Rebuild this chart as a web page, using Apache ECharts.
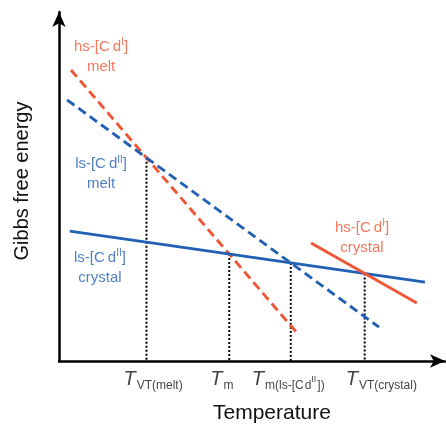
<!DOCTYPE html>
<html><head><meta charset="utf-8">
<script src="https://cdn.jsdelivr.net/npm/echarts@6/dist/echarts.min.js"></script>
<style>html,body{margin:0;padding:0;background:#fff}#c{width:446px;height:428px}</style>
</head><body><div id="c"></div>
<script>
// Free-energy branches: straight segments, [temperature, G] start -> end (arbitrary units)
const hsMelt    = [[3.1, 83.4], [61.7, 8.0]];
const lsMelt    = [[2.1, 74.8], [82.9, 9.7]];
const lsCrystal = [[2.8, 37.2], [94.8, 22.6]];
const hsCrystal = [[65.3, 33.8], [92.7, 16.6]];

// Which branches cross at each transition temperature
const crossingPairs = [
  [hsMelt, lsMelt],        // T_VT(melt)
  [hsMelt, lsCrystal],     // T_m
  [lsMelt, lsCrystal],     // T_m(ls-[Cd II])
  [hsCrystal, lsCrystal]   // T_VT(crystal)
];

// Temperature tick labels (rich text)
const tickLabels = [
  '{t|T}{s|VT(melt)}',
  '{t|T}{s|m}',
  '{t|T}{s|m(ls-[C}{s|d}{p|II}{s|])}',
  '{t|T}{s|VT(crystal)}'
];

// Branch names
const branchNames = [
  '{a|hs-[C}{g|d}{p|I}{a|]}\n{a|melt}',
  '{a|ls-[C}{g|d}{p|II}{a|]}\n{a|melt}',
  '{a|ls-[C}{g|d}{p|II}{a|]}\n{a|crystal}',
  '{a|hs-[C}{g|d}{p|I}{a|]}\n{a|crystal}'
];

// ---- layout / style ----
const RED = '#ef5636', BLUE = '#2260b4';
const branchAnchor = [[10.9, 88.0], [10.9, 54.2], [10.6, 27.5], [78.5, 36.1]];
const branchColor = [RED, BLUE, BLUE, RED];
const tickShift = [-23, -19, -39, -19];
const FONT = '"Liberation Sans", Arial, sans-serif';

function crossing(a, b) {
  const sa = (a[1][1] - a[0][1]) / (a[1][0] - a[0][0]);
  const sb = (b[1][1] - b[0][1]) / (b[1][0] - b[0][0]);
  const ia = a[0][1] - sa * a[0][0];
  const ib = b[0][1] - sb * b[0][0];
  const t = (ib - ia) / (sa - sb);
  return [t, ia + sa * t];
}
const crossings = crossingPairs.map(p => crossing(p[0], p[1]));

const seg = (name, data, color, type) => ({
  name, type: 'line', data, symbol: 'none', silent: true, z: 3,
  lineStyle: { color, width: 2.9, type, cap: 'butt' }
});

const series = [];
crossings.forEach(c => {
  series.push({
    type: 'line', data: [c, [c[0], 0]], symbol: 'none', silent: true, z: 2,
    lineStyle: { color: '#000', width: 2, type: [2, 2] }
  });
});
series.push(seg('hs melt', hsMelt, RED, [9, 5]));
series.push(seg('ls melt', lsMelt, BLUE, [9, 5]));
series.push(seg('ls crystal', lsCrystal, BLUE, 'solid'));
series.push(seg('hs crystal', hsCrystal, RED, 'solid'));

// transition temperature labels under the axis
series.push({
  type: 'scatter', symbolSize: 0, silent: true, z: 5,
  data: crossings.map((c, i) => ({
    value: [c[0], 0],
    label: {
      show: true, position: 'bottom', distance: 6, align: 'left',
      offset: [tickShift[i], 0],
      formatter: tickLabels[i],
      rich: {
        t: { fontFamily: FONT, fontSize: 20, fontStyle: 'italic', color: '#111', verticalAlign: 'bottom', lineHeight: 22 },
        s: { fontFamily: FONT, fontSize: 12, color: '#111', verticalAlign: 'bottom', padding: [0, 0, -3, 1] },
        p: { fontFamily: FONT, fontSize: 9, color: '#111', verticalAlign: 'bottom', padding: [0, 0, 5, 0] }
      }
    }
  }))
});

// branch name labels
series.push({
  type: 'scatter', symbolSize: 0, silent: true, z: 5,
  data: branchAnchor.map((p, i) => ({
    value: p,
    label: {
      show: true, position: 'inside', align: 'center', verticalAlign: 'middle',
      formatter: branchNames[i],
      rich: {
        a: { fontFamily: FONT, fontSize: 15, color: branchColor[i], lineHeight: 20, verticalAlign: 'bottom' },
        g: { fontFamily: FONT, fontSize: 15, color: branchColor[i], lineHeight: 20, verticalAlign: 'bottom', padding: [0, 0, 0, 3] },
        p: { fontFamily: FONT, fontSize: 10, color: branchColor[i], verticalAlign: 'bottom', padding: [0, 0, 7, 0], lineHeight: 20 }
      }
    }
  }))
});

const axisBase = {
  type: 'value', min: 0, max: 100,
  axisTick: { show: false }, axisLabel: { show: false }, splitLine: { show: false },
  axisLine: { show: true, symbol: ['none', 'arrow'], symbolSize: [10, 15], lineStyle: { color: '#000', width: 2.5 } }
};

const chart = echarts.init(document.getElementById('c'), null, { renderer: 'canvas' });
chart.setOption({
  backgroundColor: '#fff',
  animation: false,
  grid: { left: 59, right: 1, top: 12, bottom: 67 },
  xAxis: axisBase,
  yAxis: axisBase,
  series,
  graphic: [
    { type: 'text', left: 213, top: 403, style: { text: 'Temperature', font: '21px ' + FONT, fill: '#111' } },
    { type: 'text', x: 22, y: 181, rotation: Math.PI / 2,
      style: { text: 'Gibbs free energy', font: '20px ' + FONT, fill: '#111', align: 'center', verticalAlign: 'middle' } }
  ]
});
</script></body></html>
